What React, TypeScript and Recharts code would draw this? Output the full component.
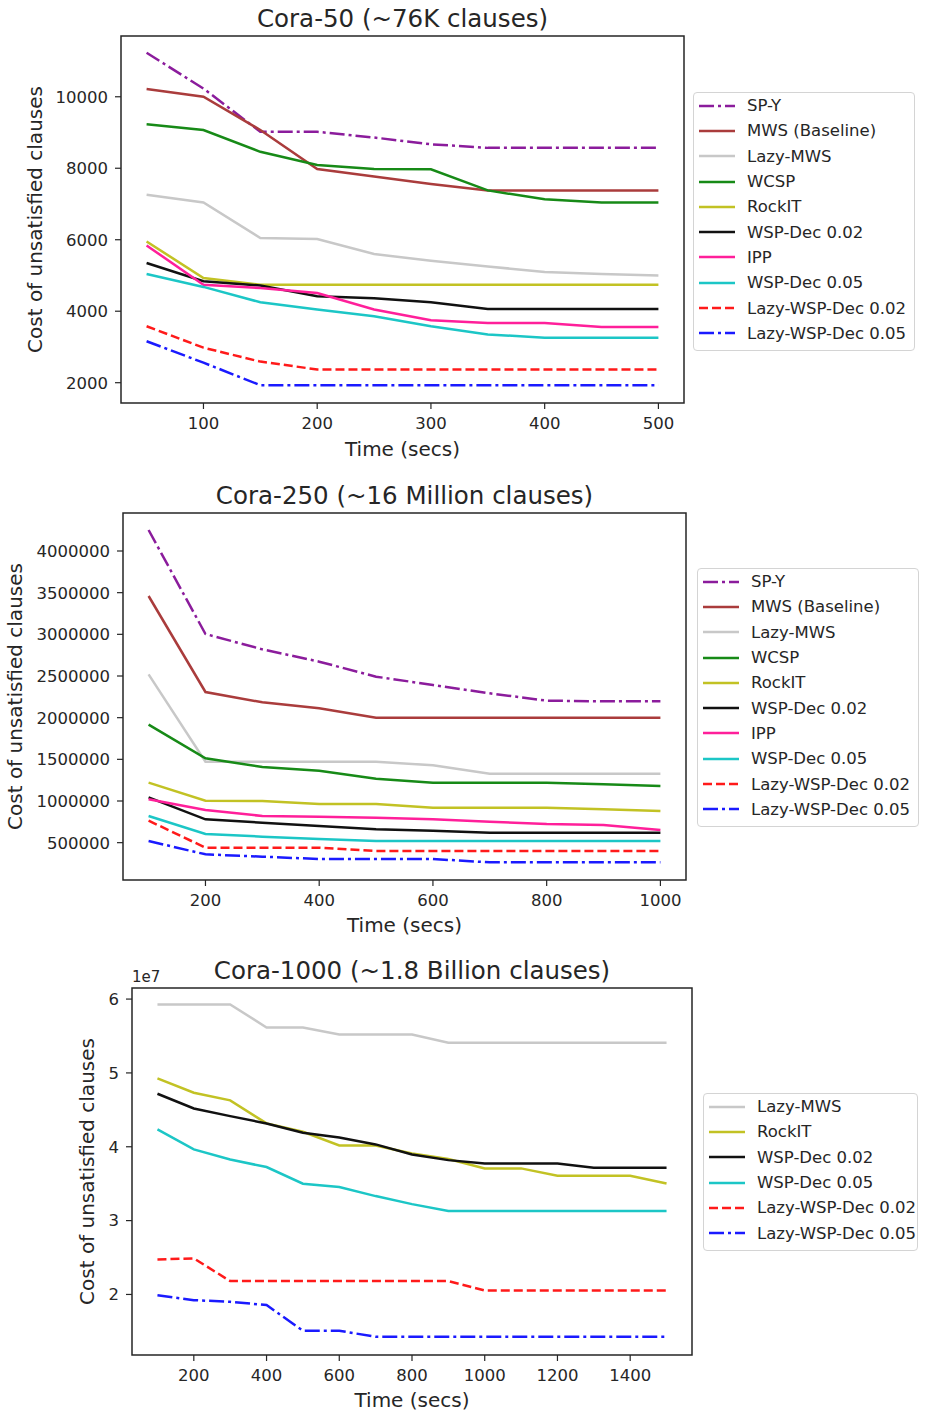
import { LineChart, Line, XAxis, YAxis, ReferenceArea, Legend } from 'recharts'

const FONT = '"DejaVu Sans", Verdana, sans-serif'
const INK = '#262626'
const PAGE_W = 929

const DASHED = '9 4'
const DASHDOT = '15 4 3 4'

// series look (matplotlib-ish colours)
const STYLE: Record<string, { name: string; color: string; dash?: string }> = {
  spy: { name: 'SP-Y', color: '#8b1c9c', dash: DASHDOT },
  mws: { name: 'MWS (Baseline)', color: '#aa3c3c' },
  lazyMws: { name: 'Lazy-MWS', color: '#c8c8c8' },
  wcsp: { name: 'WCSP', color: '#178a17' },
  rockit: { name: 'RockIT', color: '#c2c224' },
  wsp02: { name: 'WSP-Dec 0.02', color: '#111111' },
  ipp: { name: 'IPP', color: '#ff1f9a' },
  wsp05: { name: 'WSP-Dec 0.05', color: '#1cc6c6' },
  lazyWsp02: { name: 'Lazy-WSP-Dec 0.02', color: '#ff1a1a', dash: DASHED },
  lazyWsp05: { name: 'Lazy-WSP-Dec 0.05', color: '#1a1aff', dash: DASHDOT },
}

// ---- Cora-50 (~76K clauses)
const CORA50_TIME = [50, 100, 150, 200, 250, 300, 350, 400, 450, 500]
const CORA50_SPY = [11230, 10230, 9020, 9020, 8860, 8670, 8570, 8570, 8570, 8570]
const CORA50_MWS = [10220, 10000, 9070, 7980, 7770, 7560, 7380, 7380, 7380, 7380]
const CORA50_LAZY_MWS = [7260, 7040, 6050, 6020, 5600, 5410, 5250, 5100, 5040, 5000]
const CORA50_WCSP = [9230, 9070, 8460, 8090, 7980, 7970, 7380, 7130, 7040, 7040]
const CORA50_ROCKIT = [5950, 4930, 4740, 4740, 4740, 4740, 4740, 4740, 4740, 4740]
const CORA50_WSP02 = [5350, 4840, 4720, 4420, 4360, 4250, 4060, 4060, 4060, 4060]
const CORA50_IPP = [5840, 4740, 4650, 4510, 4050, 3750, 3670, 3670, 3560, 3560]
const CORA50_WSP05 = [5040, 4680, 4250, 4050, 3860, 3580, 3350, 3260, 3260, 3260]
const CORA50_LAZY_WSP02 = [3580, 2980, 2590, 2370, 2370, 2370, 2370, 2370, 2370, 2370]
const CORA50_LAZY_WSP05 = [3160, 2560, 1930, 1930, 1930, 1930, 1930, 1930, 1930, 1930]

// ---- Cora-250 (~16 Million clauses)
const CORA250_TIME = [100, 200, 300, 400, 500, 600, 700, 800, 900, 1000]
const CORA250_SPY = [4252000, 3004000, 2820000, 2672000, 2492000, 2392000, 2292000, 2204000, 2196000, 2196000]
const CORA250_MWS = [3460000, 2308000, 2184000, 2112000, 2000000, 2000000, 2000000, 2000000, 2000000, 2000000]
const CORA250_LAZY_MWS = [2520000, 1472000, 1472000, 1472000, 1472000, 1428000, 1328000, 1328000, 1328000, 1328000]
const CORA250_WCSP = [1916000, 1512000, 1408000, 1364000, 1268000, 1220000, 1220000, 1220000, 1200000, 1180000]
const CORA250_ROCKIT = [1220000, 1004000, 1000000, 964000, 964000, 920000, 920000, 920000, 900000, 880000]
const CORA250_WSP02 = [1044000, 780000, 740000, 700000, 660000, 644000, 620000, 620000, 620000, 620000]
const CORA250_IPP = [1020000, 892000, 820000, 812000, 800000, 780000, 752000, 724000, 712000, 652000]
const CORA250_WSP05 = [820000, 604000, 572000, 544000, 520000, 520000, 520000, 520000, 520000, 520000]
const CORA250_LAZY_WSP02 = [764000, 440000, 440000, 440000, 400000, 400000, 400000, 400000, 400000, 400000]
const CORA250_LAZY_WSP05 = [520000, 360000, 332000, 304000, 304000, 304000, 264000, 264000, 264000, 264000]

// ---- Cora-1000 (~1.8 Billion clauses)
const CORA1000_TIME = [100, 200, 300, 400, 500, 600, 700, 800, 900, 1000, 1100, 1200, 1300, 1400, 1500]
const CORA1000_LAZY_MWS = [5.928e7, 5.928e7, 5.928e7, 5.616e7, 5.616e7, 5.521e7, 5.521e7, 5.521e7, 5.409e7, 5.409e7, 5.409e7, 5.409e7, 5.409e7, 5.409e7, 5.409e7]
const CORA1000_ROCKIT = [4.926e7, 4.731e7, 4.628e7, 4.316e7, 4.203e7, 4.018e7, 4.018e7, 3.91e7, 3.833e7, 3.707e7, 3.707e7, 3.607e7, 3.607e7, 3.607e7, 3.503e7]
const CORA1000_WSP02 = [4.718e7, 4.519e7, 4.415e7, 4.316e7, 4.19e7, 4.126e7, 4.032e7, 3.896e7, 3.819e7, 3.774e7, 3.774e7, 3.774e7, 3.716e7, 3.716e7, 3.716e7]
const CORA1000_WSP05 = [4.235e7, 3.964e7, 3.828e7, 3.725e7, 3.499e7, 3.454e7, 3.332e7, 3.223e7, 3.129e7, 3.129e7, 3.129e7, 3.129e7, 3.129e7, 3.129e7, 3.129e7]
const CORA1000_LAZY_WSP02 = [2.474e7, 2.488e7, 2.181e7, 2.181e7, 2.181e7, 2.181e7, 2.181e7, 2.181e7, 2.181e7, 2.054e7, 2.054e7, 2.054e7, 2.054e7, 2.054e7, 2.054e7]
const CORA1000_LAZY_WSP05 = [1.99e7, 1.923e7, 1.9e7, 1.856e7, 1.508e7, 1.508e7, 1.427e7, 1.427e7, 1.427e7, 1.427e7, 1.427e7, 1.427e7, 1.427e7, 1.427e7, 1.427e7]

const CORA50_X_TICKS = [100, 200, 300, 400, 500]
const CORA50_Y_TICKS = [2000, 4000, 6000, 8000, 10000]
const CORA250_X_TICKS = [200, 400, 600, 800, 1000]
const CORA250_Y_TICKS = [500000, 1000000, 1500000, 2000000, 2500000, 3000000, 3500000, 4000000]
const CORA1000_X_TICKS = [200, 400, 600, 800, 1000, 1200, 1400]
const CORA1000_Y_TICKS = [2e7, 3e7, 4e7, 5e7, 6e7]

type PanelCfg = {
  top: number
  height: number
  title: string
  titleY: number
  plot: { l: number; r: number; t: number; b: number }
  time: number[]
  cols: Record<string, number[]>
  xDomain: [number, number]
  xTicks: number[]
  yDomain: [number, number]
  yTicks: number[]
  yFmt?: (v: number) => string
  yLabelX: number
  xLabelY: number
  legend: { left: number; top: number; width: number }
  offsetText?: string
  offsetY?: number
}

const PANELS: PanelCfg[] = [
  {
    top: 0,
    height: 470,
    title: 'Cora-50 (~76K clauses)',
    titleY: 19,
    plot: { l: 121, r: 684, t: 36, b: 403 },
    time: CORA50_TIME,
    cols: {
      spy: CORA50_SPY,
      mws: CORA50_MWS,
      lazyMws: CORA50_LAZY_MWS,
      wcsp: CORA50_WCSP,
      rockit: CORA50_ROCKIT,
      wsp02: CORA50_WSP02,
      ipp: CORA50_IPP,
      wsp05: CORA50_WSP05,
      lazyWsp02: CORA50_LAZY_WSP02,
      lazyWsp05: CORA50_LAZY_WSP05,
    },
    xDomain: [27.5, 522.5],
    xTicks: CORA50_X_TICKS,
    yDomain: [1432, 11700],
    yTicks: CORA50_Y_TICKS,
    yLabelX: 35,
    xLabelY: 449,
    legend: { left: 693, top: 92, width: 222 },
  },
  {
    top: 470,
    height: 475,
    title: 'Cora-250 (~16 Million clauses)',
    titleY: 26,
    plot: { l: 123, r: 686, t: 43, b: 410 },
    time: CORA250_TIME,
    cols: {
      spy: CORA250_SPY,
      mws: CORA250_MWS,
      lazyMws: CORA250_LAZY_MWS,
      wcsp: CORA250_WCSP,
      rockit: CORA250_ROCKIT,
      wsp02: CORA250_WSP02,
      ipp: CORA250_IPP,
      wsp05: CORA250_WSP05,
      lazyWsp02: CORA250_LAZY_WSP02,
      lazyWsp05: CORA250_LAZY_WSP05,
    },
    xDomain: [55, 1045],
    xTicks: CORA250_X_TICKS,
    yDomain: [52000, 4456000],
    yTicks: CORA250_Y_TICKS,
    yLabelX: 15,
    xLabelY: 455,
    legend: { left: 697, top: 98, width: 222 },
  },
  {
    top: 945,
    height: 468,
    title: 'Cora-1000 (~1.8 Billion clauses)',
    titleY: 26,
    plot: { l: 132, r: 692, t: 43, b: 410 },
    time: CORA1000_TIME,
    cols: {
      lazyMws: CORA1000_LAZY_MWS,
      rockit: CORA1000_ROCKIT,
      wsp02: CORA1000_WSP02,
      wsp05: CORA1000_WSP05,
      lazyWsp02: CORA1000_LAZY_WSP02,
      lazyWsp05: CORA1000_LAZY_WSP05,
    },
    xDomain: [30, 1570],
    xTicks: CORA1000_X_TICKS,
    yDomain: [1.18e7, 6.15e7],
    yTicks: CORA1000_Y_TICKS,
    yFmt: (v) => String(Math.round(v / 1e7)),
    yLabelX: 87,
    xLabelY: 455,
    legend: { left: 703, top: 148, width: 215 },
    offsetText: '1e7',
    offsetY: 32,
  },
]

function buildRows(time: number[], cols: Record<string, number[]>) {
  return time.map((t, i) => {
    const row: Record<string, number> = { t }
    for (const k of Object.keys(cols)) row[k] = cols[k][i]
    return row
  })
}

function LegendBox({ keys, width }: { keys: string[]; width: number }) {
  return (
    <div
      style={{
        width,
        boxSizing: 'border-box',
        border: '1px solid #d4d4d4',
        borderRadius: 4,
        background: '#fff',
        padding: '0 0 4px 5px',
        fontFamily: FONT,
        fontSize: 16.5,
        color: INK,
      }}
    >
      {keys.map((k) => (
        <div key={k} style={{ display: 'flex', alignItems: 'center', height: 25.3 }}>
          <svg width={36} height={10} style={{ flexShrink: 0 }}>
            <line x1={0} y1={5} x2={36} y2={5} stroke={STYLE[k].color} strokeWidth={2.5} strokeDasharray={STYLE[k].dash} />
          </svg>
          <span style={{ marginLeft: 12, whiteSpace: 'nowrap' }}>{STYLE[k].name}</span>
        </div>
      ))}
    </div>
  )
}

function Panel({ cfg }: { cfg: PanelCfg }) {
  const { plot } = cfg
  const keys = Object.keys(cfg.cols)
  const rows = buildRows(cfg.time, cfg.cols)
  const xAxisH = 30
  const cx = (plot.l + plot.r) / 2
  const cy = (plot.t + plot.b) / 2
  const tickStyle = { fill: INK, fontSize: 16.5, fontFamily: FONT }

  return (
    <div style={{ position: 'absolute', left: 0, top: cfg.top, width: PAGE_W, height: cfg.height }}>
      <div
        style={{
          position: 'absolute',
          left: plot.l,
          width: plot.r - plot.l,
          top: cfg.titleY - 16,
          height: 32,
          lineHeight: '32px',
          textAlign: 'center',
          fontSize: 24.5,
          fontFamily: FONT,
          color: INK,
          whiteSpace: 'nowrap',
        }}
      >
        {cfg.title}
      </div>
      {cfg.offsetText && (
        <div
          style={{
            position: 'absolute',
            left: plot.l,
            top: (cfg.offsetY ?? 0) - 10,
            lineHeight: '20px',
            fontSize: 15,
            fontFamily: FONT,
            color: INK,
          }}
        >
          {cfg.offsetText}
        </div>
      )}
      <LineChart
        width={PAGE_W}
        height={cfg.height}
        data={rows}
        margin={{ top: plot.t, right: PAGE_W - plot.r, bottom: cfg.height - plot.b - xAxisH, left: 0 }}
      >
        <XAxis
          dataKey="t"
          type="number"
          domain={cfg.xDomain}
          ticks={cfg.xTicks}
          allowDataOverflow
          interval={0}
          height={xAxisH}
          axisLine={false}
          tickLine={{ stroke: INK, strokeWidth: 1.2 }}
          tickSize={6}
          tickMargin={8}
          tick={tickStyle}
          label={{
            value: 'Time (secs)',
            content: () => (
              <text x={cx} y={cfg.xLabelY} textAnchor="middle" dominantBaseline="central" fill={INK} fontSize={20} fontFamily={FONT}>
                Time (secs)
              </text>
            ),
          }}
        />
        <YAxis
          type="number"
          domain={cfg.yDomain}
          ticks={cfg.yTicks}
          allowDataOverflow
          interval={0}
          width={plot.l}
          axisLine={false}
          tickLine={{ stroke: INK, strokeWidth: 1.2 }}
          tickSize={6}
          tickMargin={7}
          tick={tickStyle}
          tickFormatter={cfg.yFmt}
          label={{
            value: 'Cost of unsatisfied clauses',
            content: () => (
              <text
                x={cfg.yLabelX}
                y={cy}
                transform={`rotate(-90, ${cfg.yLabelX}, ${cy})`}
                textAnchor="middle"
                dominantBaseline="central"
                fill={INK}
                fontSize={20}
                fontFamily={FONT}
              >
                Cost of unsatisfied clauses
              </text>
            ),
          }}
        />
        {/* the matplotlib-style frame round the plot */}
        <ReferenceArea
          x1={cfg.xDomain[0]}
          x2={cfg.xDomain[1]}
          y1={cfg.yDomain[0]}
          y2={cfg.yDomain[1]}
          ifOverflow="visible"
          fill="#fff"
          fillOpacity={0}
          stroke={INK}
          strokeWidth={1.5}
        />
        {keys.map((k) => (
          <Line
            key={k}
            type="linear"
            dataKey={k}
            name={STYLE[k].name}
            stroke={STYLE[k].color}
            strokeWidth={2.5}
            strokeDasharray={STYLE[k].dash}
            dot={false}
            activeDot={false}
            isAnimationActive={false}
          />
        ))}
        <Legend
          layout="vertical"
          align="center"
          verticalAlign="middle"
          wrapperStyle={{ left: cfg.legend.left, top: cfg.legend.top, width: cfg.legend.width }}
          content={() => <LegendBox keys={keys} width={cfg.legend.width} />}
        />
      </LineChart>
    </div>
  )
}

export default function App() {
  return (
    <div style={{ position: 'relative', width: PAGE_W, height: 1413, background: '#fff' }}>
      <style>{'body{margin:0}'}</style>
      {PANELS.map((p) => (
        <Panel key={p.title} cfg={p} />
      ))}
    </div>
  )
}
